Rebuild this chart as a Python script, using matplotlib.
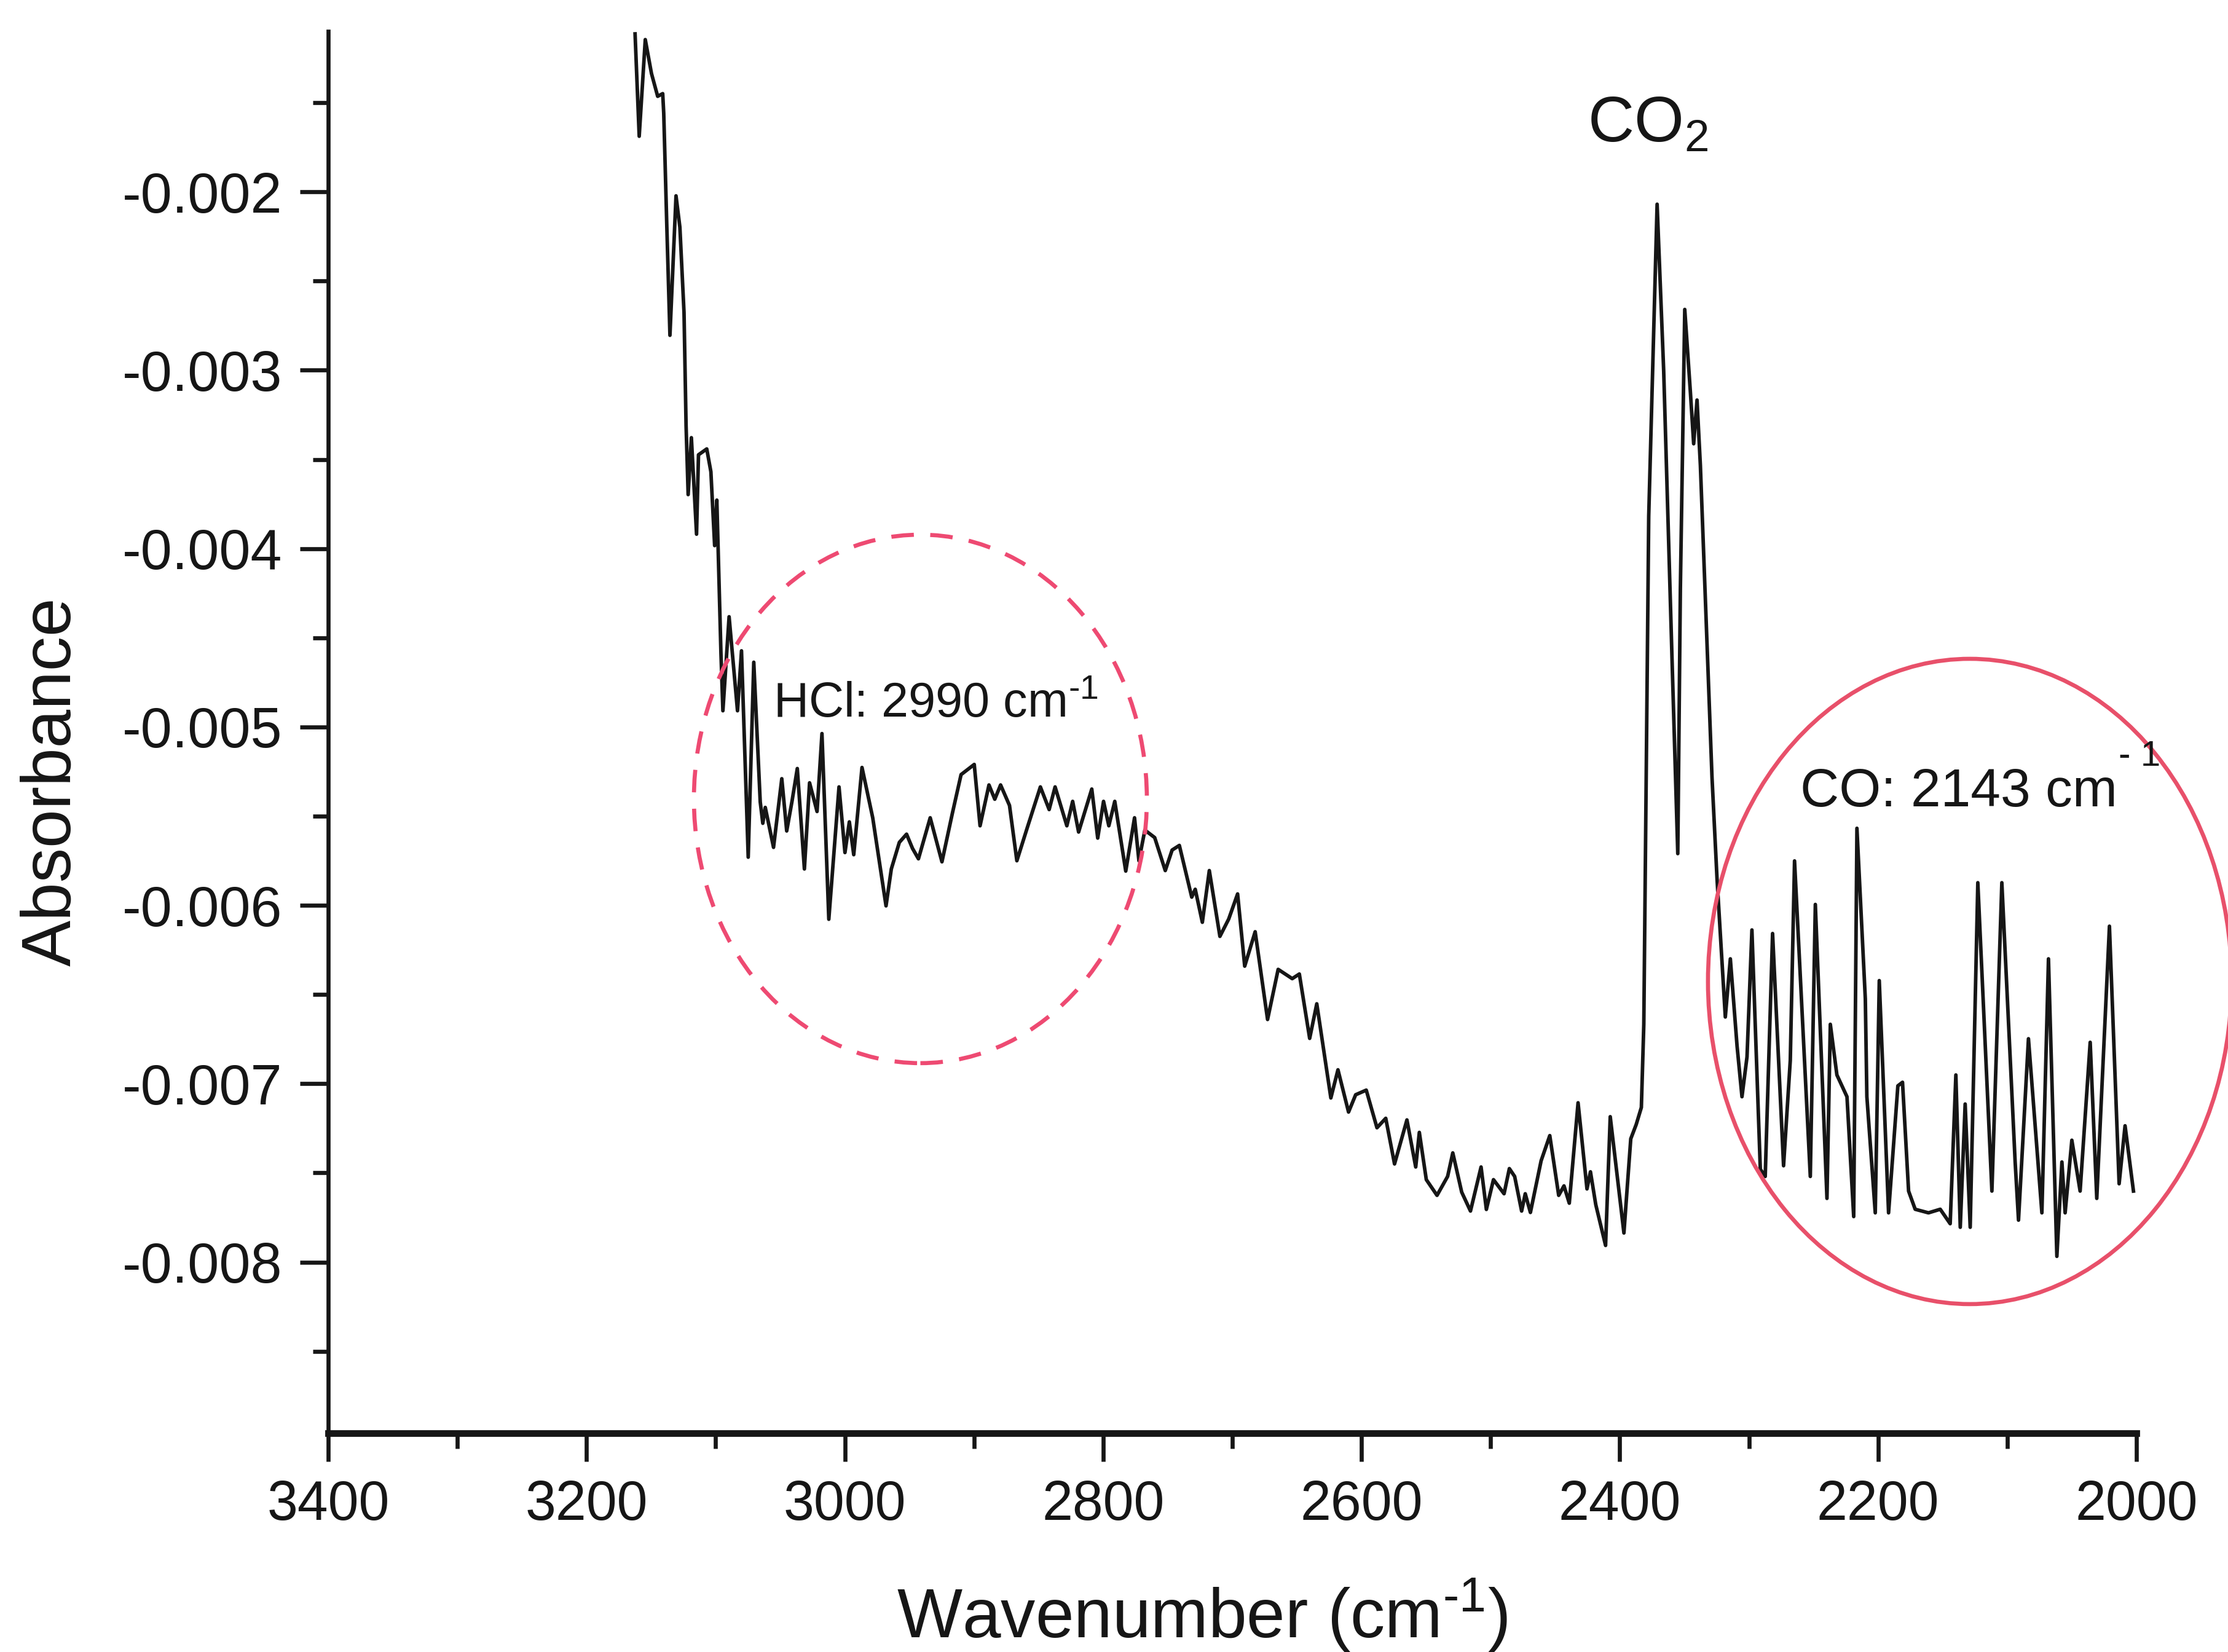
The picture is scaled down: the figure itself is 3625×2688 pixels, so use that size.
import numpy as np
import matplotlib
matplotlib.use("Agg")
import matplotlib.pyplot as plt
from matplotlib.patches import Ellipse
from matplotlib.ticker import MultipleLocator, FormatStrFormatter

# FTIR absorbance spectrum of the evolved gas, 3160-2000 cm-1
wavenumber = [
    3162.4, 3159.2, 3154.5, 3149.7, 3144.9, 3141.0, 3140.2, 3137.8, 3135.4, 3130.7,
    3127.7, 3124.5, 3122.9, 3121.3, 3118.8, 3114.8, 3113.3, 3106.9, 3103.7, 3100.8,
    3099.1, 3095.9, 3094.4, 3089.6, 3083.1, 3080.0, 3074.8, 3070.5, 3065.5, 3063.5,
    3061.6, 3055.2, 3048.8, 3045.0, 3040.9, 3036.8, 3031.3, 3027.3, 3021.5, 3017.7,
    3012.4, 3004.5, 2999.9, 2996.5, 2993.1, 2986.7, 2978.4, 2968.1, 2964.0, 2957.8,
    2952.2, 2947.6, 2943.0, 2933.9, 2924.8, 2916.8, 2910.0, 2899.8, 2895.3, 2888.4,
    2883.9, 2879.4, 2872.5, 2866.8, 2858.8, 2848.6, 2841.8, 2837.2, 2828.1, 2823.6,
    2819.0, 2808.8, 2804.2, 2799.7, 2795.6, 2791.0, 2782.5, 2775.7, 2772.3, 2767.7,
    2760.1, 2751.9, 2746.6, 2741.0, 2731.4, 2728.7, 2723.2, 2717.8, 2709.6, 2702.8,
    2695.9, 2690.4, 2682.3, 2672.7, 2664.5, 2653.6, 2648.1, 2640.1, 2634.6, 2623.7,
    2618.2, 2610.0, 2604.5, 2596.3, 2588.0, 2581.2, 2574.4, 2564.8, 2558.0, 2555.2,
    2549.8, 2541.5, 2533.3, 2529.3, 2522.4, 2515.6, 2511.5, 2507.4, 2503.3, 2497.8,
    2489.6, 2485.5, 2481.4, 2476.0, 2473.2, 2469.2, 2460.9, 2454.2, 2447.3, 2443.2,
    2439.1, 2432.3, 2425.4, 2422.7, 2418.6, 2411.0, 2407.4, 2396.8, 2391.5, 2387.3,
    2383.3, 2381.4, 2377.6, 2371.1, 2366.0, 2359.5, 2355.1, 2353.1, 2349.7, 2345.3,
    2342.8, 2340.2, 2337.6, 2328.6, 2324.7, 2318.3, 2314.4, 2309.2, 2305.4, 2301.5,
    2297.7, 2291.2, 2287.4, 2281.7, 2273.2, 2268.0, 2264.7, 2252.5, 2248.6, 2239.6,
    2237.0, 2231.9, 2224.1, 2218.9, 2216.4, 2209.9, 2208.7, 2202.2, 2199.1, 2191.9,
    2184.7, 2181.1, 2176.4, 2171.3, 2161.0, 2151.9, 2144.2, 2139.8, 2136.4, 2132.6,
    2128.7, 2122.8, 2111.9, 2104.2, 2093.9, 2091.3, 2083.6, 2073.2, 2068.1, 2061.6,
    2057.7, 2055.2, 2050.0, 2043.6, 2035.8, 2030.7, 2026.8, 2020.9, 2013.4, 2008.8,
    2002.3,
]

# absorbance in units of 1e-3
absorbance_e3 = [
    -1.114, -1.688, -1.146, -1.336, -1.464, -1.449, -1.560, -2.198, -2.804, -2.022,
    -2.198, -2.676, -3.314, -3.697, -3.378, -3.919, -3.474, -3.441, -3.569, -3.983,
    -3.728, -4.589, -4.909, -4.382, -4.909, -4.573, -5.730, -4.637, -5.420, -5.540,
    -5.451, -5.675, -5.290, -5.583, -5.417, -5.233, -5.796, -5.313, -5.474, -5.037,
    -6.078, -5.336, -5.704, -5.532, -5.716, -5.227, -5.509, -6.003, -5.796, -5.647,
    -5.601, -5.681, -5.739, -5.509, -5.756, -5.486, -5.267, -5.210, -5.554, -5.325,
    -5.405, -5.325, -5.440, -5.750, -5.566, -5.336, -5.463, -5.336, -5.554, -5.417,
    -5.589, -5.348, -5.623, -5.417, -5.554, -5.417, -5.808, -5.509, -5.750, -5.578,
    -5.620, -5.805, -5.690, -5.664, -5.954, -5.910, -6.095, -5.805, -6.174, -6.077,
    -5.936, -6.341, -6.148, -6.640, -6.359, -6.411, -6.385, -6.746, -6.552, -7.080,
    -6.922, -7.159, -7.062, -7.036, -7.247, -7.194, -7.450, -7.203, -7.467, -7.273,
    -7.538, -7.626, -7.520, -7.388, -7.608, -7.714, -7.590, -7.467, -7.705, -7.538,
    -7.617, -7.476, -7.520, -7.714, -7.617, -7.722, -7.432, -7.291, -7.626, -7.573,
    -7.670, -7.107, -7.590, -7.494, -7.678, -7.907, -7.185, -7.837, -7.309, -7.229,
    -7.133, -6.667, -3.819, -2.069, -3.005, -4.632, -5.710, -4.226, -2.659, -3.127,
    -3.412, -3.167, -3.534, -5.283, -5.853, -6.626, -6.300, -6.789, -7.073, -6.850,
    -6.138, -7.480, -7.520, -6.158, -7.460, -6.870, -5.751, -7.520, -5.995, -7.643,
    -6.667, -6.951, -7.073, -7.745, -5.568, -6.524, -7.073, -7.724, -6.422, -7.724,
    -7.012, -6.992, -7.602, -7.704, -7.724, -7.704, -7.785, -6.951, -7.805, -7.114,
    -7.805, -5.873, -7.602, -5.873, -7.439, -7.765, -6.748, -7.724, -6.300, -7.968,
    -7.439, -7.724, -7.317, -7.602, -6.768, -7.643, -7.032, -6.117, -7.561, -7.236,
    -7.602,
]

x_ticks = [3400, 3200, 3000, 2800, 2600, 2400, 2200, 2000]
y_ticks = [-0.008, -0.007, -0.006, -0.005, -0.004, -0.003, -0.002]

plt.rcParams["font.family"] = ["Liberation Sans", "DejaVu Sans"]
plt.rcParams["mathtext.fontset"] = "custom"
plt.rcParams["mathtext.rm"] = "Liberation Sans"
plt.rcParams["mathtext.it"] = "Liberation Sans:italic"
plt.rcParams["mathtext.bf"] = "Liberation Sans:bold"
plt.rcParams["axes.unicode_minus"] = False

ink = "#161616"
pink = "#ee4a72"

fig = plt.figure(figsize=(3625 / 300, 2688 / 300), dpi=300)
ax = fig.add_axes([0.1473, 0.1324, 0.9589 - 0.1473, 0.981 - 0.1324])

absorbance = np.asarray(absorbance_e3) * 1e-3
ax.plot(wavenumber, absorbance, color=ink, lw=1.4, solid_joinstyle="round")

ax.set_xlim(3400, 2000)
ax.set_ylim(-0.00896, -0.0011)
ax.set_xticks(x_ticks)
ax.set_yticks(y_ticks)
ax.xaxis.set_minor_locator(MultipleLocator(100))
ax.yaxis.set_minor_locator(MultipleLocator(0.0005))
ax.yaxis.set_major_formatter(FormatStrFormatter("%.3f"))

for side in ("top", "right"):
    ax.spines[side].set_visible(False)
ax.spines["left"].set_linewidth(1.6)
ax.spines["bottom"].set_linewidth(2.6)
ax.spines["left"].set_color(ink)
ax.spines["bottom"].set_color(ink)

ax.tick_params(axis="both", which="major", direction="out", length=11, width=1.6,
               color=ink, labelcolor=ink)
ax.tick_params(axis="both", which="minor", direction="out", length=6, width=1.6,
               color=ink)
ax.tick_params(axis="y", which="major", labelsize=22, pad=7)
ax.tick_params(axis="x", which="major", labelsize=21.5, pad=7)

# axis titles
fig.text(0.0235, 0.5268, "Absorbance", rotation=90, ha="center", va="center",
         fontsize=27, color=ink)
fig.text(0.5396, 0.0086, r"Wavenumber (cm$^{\text{-}1}$)", ha="center", va="baseline",
         fontsize=27, color=ink)

# band annotations
fig.text(0.7126, 0.9141, r"CO$_2$", ha="left", va="baseline", fontsize=25, color=ink)
fig.text(0.3469, 0.5660, r"HCl: 2990 cm$^{\text{-}1}$", ha="left", va="baseline",
         fontsize=19, color=ink)
fig.text(0.8080, 0.5119, "CO: 2143 cm", ha="left", va="baseline", fontsize=21, color=ink)
fig.text(0.9510, 0.5365, "- 1", ha="left", va="baseline", fontsize=14, color=ink)

# highlight regions
fig.add_artist(Ellipse((0.4131, 0.5164), 0.2033, 0.3199, transform=fig.transFigure,
                       fill=False, edgecolor=pink, lw=1.6, linestyle=(0, (5.5, 4))))
fig.add_artist(Ellipse((0.8841, 0.4059), 0.2350, 0.3906, transform=fig.transFigure,
                       fill=False, edgecolor="#e8506a", lw=1.6))

fig.savefig("out.png", dpi=300, facecolor="white")
